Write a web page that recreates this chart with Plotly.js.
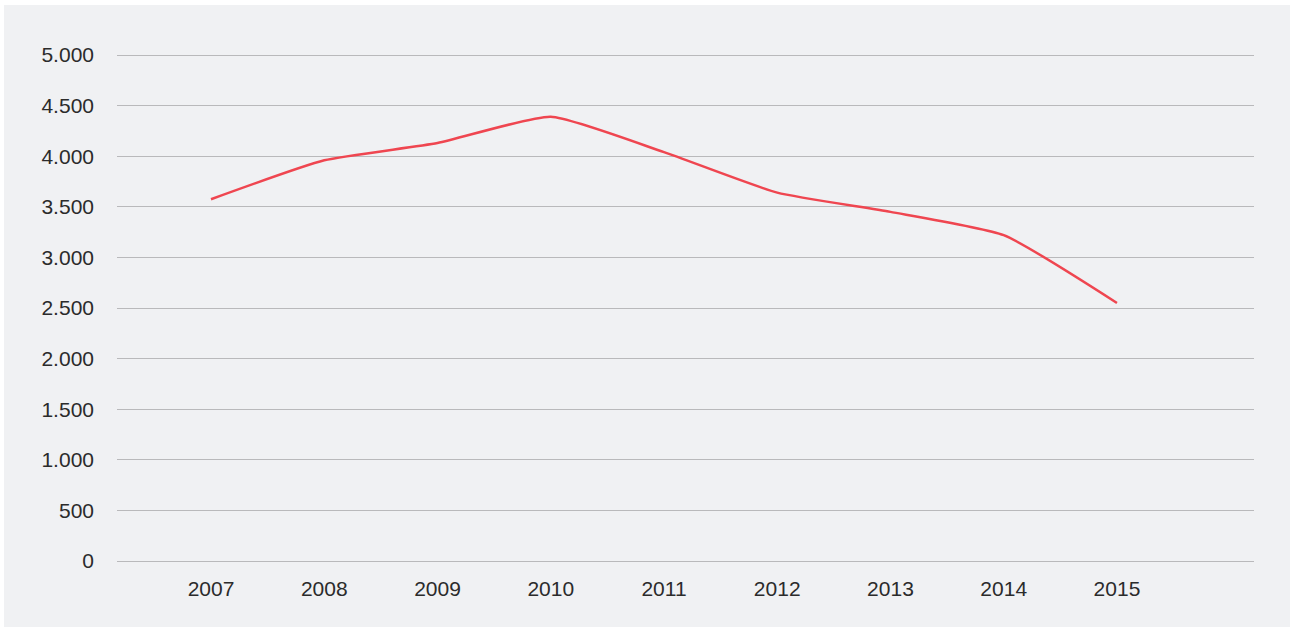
<!DOCTYPE html>
<html>
<head>
<meta charset="utf-8">
<script src="https://cdn.plot.ly/plotly-3.0.1.min.js"></script>
<style>
  html, body { margin: 0; padding: 0; background: #ffffff; }
  #chart { position: absolute; left: 4px; top: 5px; width: 1286px; height: 622px; }
</style>
</head>
<body>
<div id="chart"></div>
<script>
const years = [2007, 2008, 2009, 2010, 2011, 2012, 2013, 2014, 2015];
const values = [3575, 3960, 4130, 4390, 4040, 3640, 3450, 3220, 2550];
const yTicks = [0, 500, 1000, 1500, 2000, 2500, 3000, 3500, 4000, 4500, 5000];

const trace = {
  x: years,
  y: values,
  type: 'scatter',
  mode: 'lines',
  line: { color: '#ef4650', width: 2.5, shape: 'spline', smoothing: 0.5 },
  hoverinfo: 'x+y'
};

const layout = {
  width: 1286,
  height: 622,
  paper_bgcolor: '#f0f1f3',
  plot_bgcolor: '#f0f1f3',
  separators: ',.',
  showlegend: false,
  margin: { l: 113, r: 36, t: 48, b: 66 },
  font: { family: 'Liberation Sans, Arial, sans-serif', size: 21, color: '#2b2b2b' },
  xaxis: {
    range: [2006.17, 2016.21],
    tickvals: years,
    ticktext: years.map(String),
    showgrid: false,
    zeroline: false,
    showline: false,
    ticks: '',
    ticklabelstandoff: 13,
    tickfont: { size: 21, color: '#2b2b2b' }
  },
  yaxis: {
    range: [0, 5020],
    tickvals: yTicks,
    tickformat: ',d',
    showgrid: true,
    gridcolor: '#b9b9bb',
    gridwidth: 1,
    zeroline: true,
    zerolinecolor: '#b9b9bb',
    zerolinewidth: 1,
    showline: false,
    ticks: '',
    ticklabelstandoff: 22,
    tickfont: { size: 21, color: '#2b2b2b' }
  }
};

Plotly.newPlot('chart', [trace], layout, { displayModeBar: false, staticPlot: true });
</script>
</body>
</html>
